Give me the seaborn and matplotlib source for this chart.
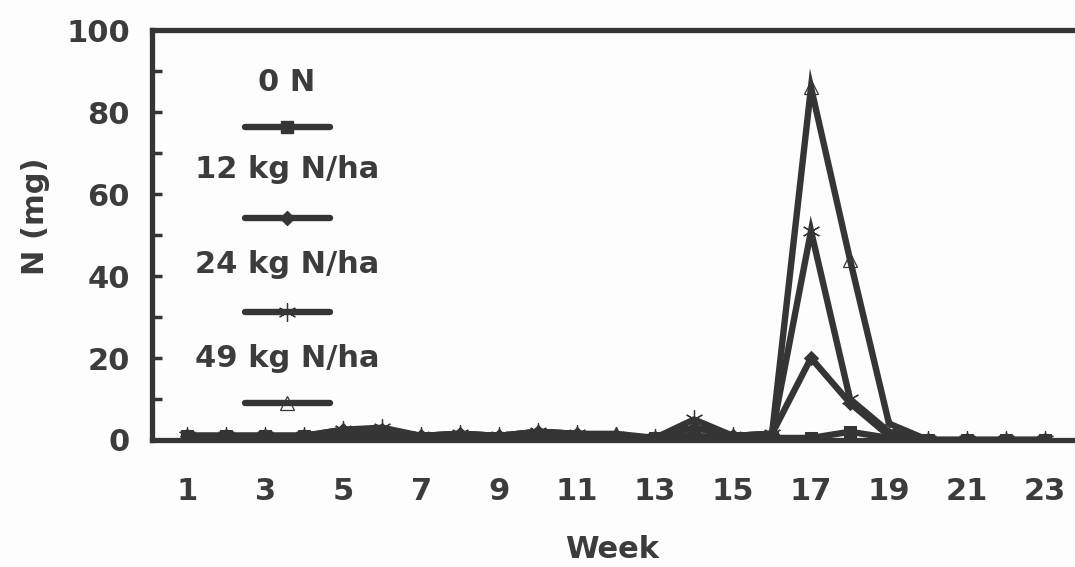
import matplotlib
matplotlib.use("Agg")
import matplotlib.pyplot as plt
import seaborn as sns
import pandas as pd
import numpy as np

# Weekly N losses (mg) for four fertiliser rates
weeks = list(range(1, 24))
n_0 = [1, 1, 1, 1, 1, 1, 0.5, 0.5, 0.5, 0.5, 0.5, 0.5, 0.5, 1, 0.5, 0.5, 0.5, 2, 0.5, 0, 0, 0, 0]
n_12 = [1, 1, 1, 1, 2.5, 2.5, 1, 1.5, 1, 2, 1.5, 1, 0.5, 3, 1, 1.5, 20, 9, 1, 0, 0, 0, 0]
n_24 = [1, 1, 1, 1, 2.5, 3, 1, 1.5, 1, 2, 1.5, 1, 0.5, 5, 1, 1.5, 51, 10, 2, 0, 0, 0, 0]
n_49 = [1, 1, 1, 1, 2, 2.5, 1, 1.5, 1, 2, 1.5, 1.5, 0.5, 3, 1, 1.5, 86, 44, 4, 0, 0, 0, 0]
series_names = ["0 N", "12 kg N/ha", "24 kg N/ha", "49 kg N/ha"]
series_values = [n_0, n_12, n_24, n_49]
y_ticks = [0, 20, 40, 60, 80, 100]
x_ticks = list(range(1, 24, 2))

ink = "#353535"
text_col = "#3c3c3c"

df = pd.concat(
    [pd.DataFrame({"Week": weeks, "N": v, "Rate": name}) for name, v in zip(series_names, series_values)],
    ignore_index=True,
)

sns.set_theme(style="ticks")
plt.rcParams["font.family"] = ["DejaVu Sans"]
plt.rcParams["font.weight"] = "bold"

fig = plt.figure(figsize=(10.75, 5.67), dpi=100, facecolor="#fdfdfd")
ax = fig.add_axes([0.1414, 0.224, 0.8586, 0.723])
ax.set_facecolor("#fdfdfd")

marker_styles = {
    "0 N": dict(marker="s", markersize=9, markerfacecolor=ink, markeredgecolor=ink),
    "12 kg N/ha": dict(marker="D", markersize=7, markerfacecolor=ink, markeredgecolor=ink),
    "24 kg N/ha": dict(marker=(6, 2, 0), markersize=13, markeredgewidth=0.9, markeredgecolor=ink),
    "49 kg N/ha": dict(marker="^", markersize=10, markerfacecolor="none", markeredgewidth=0.9, markeredgecolor=ink),
}

for name in series_names:
    sub = df[df["Rate"] == name]
    sns.lineplot(data=sub, x="Week", y="N", ax=ax, color=ink, linewidth=4.6,
                 solid_joinstyle="miter", legend=False, clip_on=True,
                 **marker_styles[name])

ax.set_xlim(0.1, 23.77)
ax.set_ylim(0, 100)
ax.set_xticks(x_ticks)
ax.set_xticklabels([str(t) for t in x_ticks])
ax.set_yticks(y_ticks)
ax.set_yticks(range(10, 100, 20), minor=True)
ax.tick_params(axis="x", length=0, pad=27, labelsize=22, labelcolor=text_col)
ax.tick_params(axis="y", which="both", direction="in", length=7, width=2.5,
               color=ink, pad=16, labelsize=22, labelcolor=text_col)
for lab in ax.get_xticklabels() + ax.get_yticklabels():
    lab.set_fontweight("bold")

for side in ["left", "bottom", "top"]:
    ax.spines[side].set_linewidth(3.8)
    ax.spines[side].set_color(ink)
ax.spines["right"].set_visible(False)

ax.set_xlabel("Week", fontsize=22, fontweight="bold", color=text_col)
ax.set_ylabel("N (mg)", fontsize=22, fontweight="bold", color=text_col)
ax.xaxis.set_label_coords(0.499, -0.232)
ax.yaxis.set_label_coords(-0.11, 0.546)

# Legend: label text stacked above each line sample
text_y = [0.873, 0.659, 0.427, 0.200]
line_y = [0.763, 0.541, 0.312, 0.090]
for name, ty, ly in zip(series_names, text_y, line_y):
    ax.text(0.146, ty, name, transform=ax.transAxes, ha="center", va="center",
            fontsize=22, fontweight="bold", color=text_col)
    ax.plot([0.101, 0.146, 0.193], [ly, ly, ly], transform=ax.transAxes, color=ink,
            linewidth=4.6, solid_capstyle="round", markevery=[1], clip_on=False,
            **marker_styles[name])

fig.savefig("out.png", dpi=100, facecolor=fig.get_facecolor())
